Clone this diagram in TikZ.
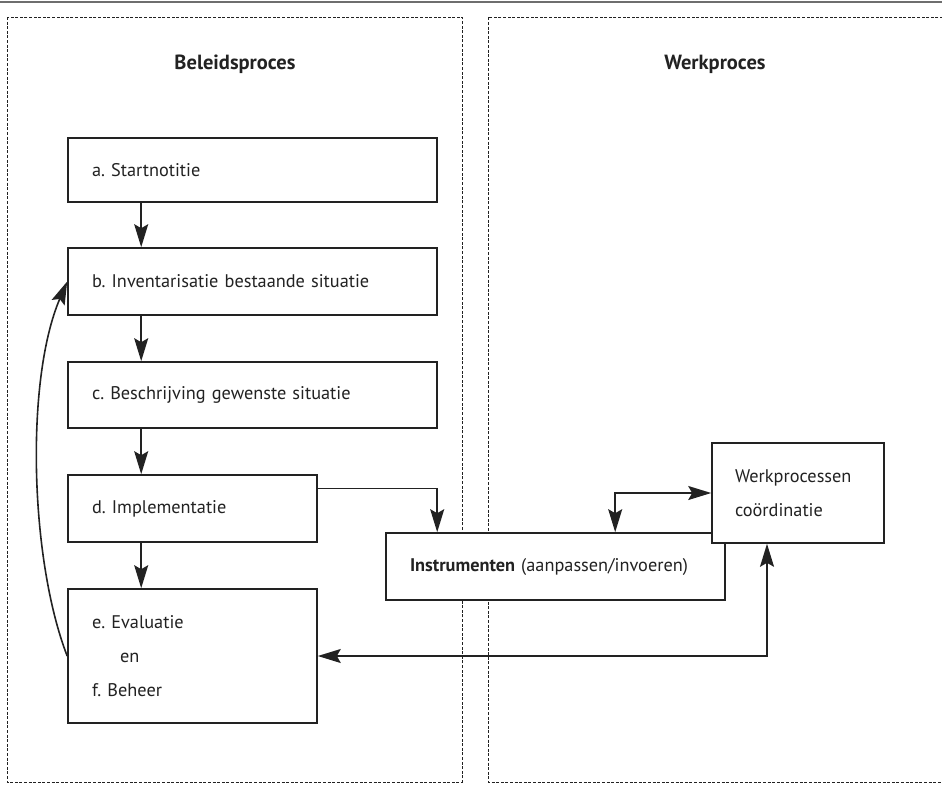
\documentclass[tikz,border=0pt]{standalone}
\usepackage{fontspec}
\setmainfont{PT Sans}
\frenchspacing
\usetikzlibrary{arrows.meta,calc}
\definecolor{ln}{HTML}{222222}
\definecolor{rule}{HTML}{6E6E6E}
\tikzset{
  box/.style={draw=ln, line width=1.6pt, fill=white, rectangle, inner xsep=0pt, inner ysep=0pt, align=left,
     font=\fontsize{18.3}{34}\selectfont, text=ln},
  panel/.style={draw=ln, line width=1pt, dash pattern=on 3pt off 1.6pt},
  arr/.style={draw=ln, line width=1.6pt, -{Stealth[length=23pt,width=14pt,inset=4pt]}},
  arrtwo/.style={draw=ln, line width=1.6pt, {Stealth[length=23pt,width=14pt,inset=4pt]}-{Stealth[length=23pt,width=14pt,inset=4pt]}},
  head/.style={font=\fontsize{20.5}{24}\selectfont\bfseries, text=ln},
}
\begin{document}
\begin{tikzpicture}[x=1pt,y=-1pt]
\useasboundingbox (0,0) rectangle (942,795);
\draw[rule, line width=2.8pt] (0,2) -- (942,2);
\draw[panel] (7,17) rectangle (462,782);
\draw[panel] (943,17) -- (488,17) -- (488,782) -- (943,782);
\node[head] (hl) at (235,64) {Beleidsproces};
\node[head] (hr) at (715,64) {Werkproces};

\node[box, minimum width=369pt, minimum height=64pt, text width=321pt] (a) at (252.5,170) {a. Startnotitie};
\node[box, minimum width=369pt, minimum height=67pt, text width=321pt] (b) at (252.5,281.5) {b. Inventarisatie bestaande situatie};
\node[box, minimum width=369pt, minimum height=66pt, text width=321pt] (c) at (252.5,395) {c. Beschrijving gewenste situatie};
\node[box, minimum width=249pt, minimum height=67pt, text width=201pt] (d) at (192.5,508.5) {d. Implementatie};
\node[box, minimum width=249pt, minimum height=134pt, text width=201pt] (e) at (192.5,656) {e. Evaluatie\\\hspace*{28pt}en\\f. Beheer};
\node[box, minimum width=339pt, minimum height=67pt, text width=291pt] (i) at (555.5,566.5) {\textbf{Instrumenten} (aanpassen/invoeren)};
\node[box, minimum width=172pt, minimum height=100pt, text width=126pt] (w) at (798,493) {Werkprocessen\\coördinatie};

\draw[arr] ([xshift=74pt]a.south west) -- ([xshift=74pt]b.north west);
\draw[arr] ([xshift=74pt]b.south west) -- ([xshift=74pt]c.north west);
\draw[arr] ([xshift=74pt]c.south west) -- ([xshift=74pt]d.north west);
\draw[arr] ([xshift=74pt]d.south west) -- ([xshift=74pt]e.north west);
\draw[arr] ([yshift=20pt]d.east) -| ([xshift=52pt]i.north west);
\draw[arrtwo] ([xshift=230pt]i.north west) |- (w.west);
\draw[arrtwo] ([xshift=-31pt]w.south) |- (e.east);
\draw[arr] (e.west) .. controls (30,560) and (25,380) .. (b.west);
\end{tikzpicture}
\end{document}
